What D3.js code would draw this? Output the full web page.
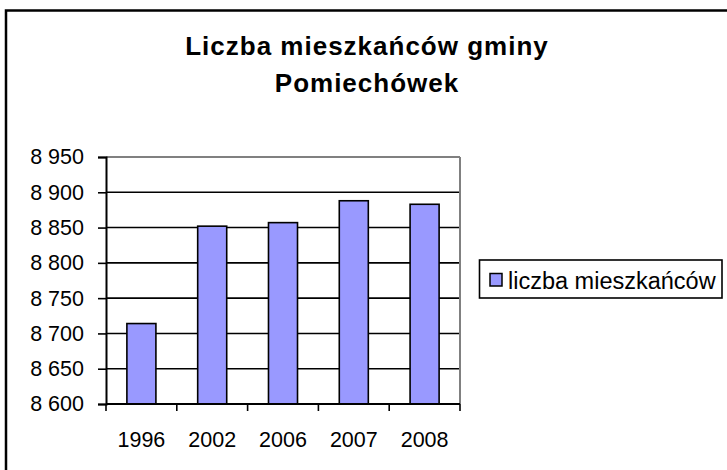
<!DOCTYPE html>
<html>
<head>
<meta charset="utf-8">
<script src="https://cdn.jsdelivr.net/npm/d3@7/dist/d3.min.js"></script>
<style>
  body { margin: 0; background: #fff; }
  text { font-family: "Liberation Sans", Arial, sans-serif; fill: #000; }
</style>
</head>
<body>
<svg id="chart" width="727" height="470"></svg>
<script>
// data
const years = ["1996", "2002", "2006", "2007", "2008"]
const residents = [8714, 8852, 8857, 8888, 8883]
const y_ticks = [8600, 8650, 8700, 8750, 8800, 8850, 8900, 8950]
const title_lines = ["Liczba mieszkańców gminy", "Pomiechówek"]
const series_name = "liczba mieszkańców"

const width = 727, height = 470
const svg = d3.select("#chart")

// outer frame (runs off the right and bottom edges)
svg.append("rect")
	.attr("x", 6).attr("y", 10.5)
	.attr("width", 760).attr("height", 500)
	.attr("fill", "none")
	.attr("stroke", "#000")
	.attr("stroke-width", 2.5)

const plot = {left: 106, right: 460, top: 157, bottom: 404}

const x = d3.scaleBand()
	.domain(years)
	.range([plot.left, plot.right])
	.paddingInner(0.59)
	.paddingOuter(0.295)

const xg = d3.scaleBand().domain(years).range([plot.left, plot.right])

const y = d3.scaleLinear()
	.domain([8600, 8950])
	.range([plot.bottom, plot.top])

const fmt = d => d3.format(",")(d).replace(",", " ")

// gridlines
svg.append("g").classed("grid", true)
	.selectAll("line")
	.data(y_ticks.filter(d => d > 8600))
	.join("line")
	.attr("x1", plot.left).attr("x2", plot.right)
	.attr("y1", d => y(d)).attr("y2", d => y(d))
	.attr("stroke", d => d === 8950 ? "#808080" : "#000")
	.attr("stroke-width", d => d === 8950 ? 2 : 1.6)

// right border of plot area
svg.append("line")
	.attr("x1", plot.right).attr("x2", plot.right)
	.attr("y1", plot.top).attr("y2", plot.bottom)
	.attr("stroke", "#808080")
	.attr("stroke-width", 2)

// bars
svg.append("g").classed("bars", true)
	.selectAll("rect")
	.data(years.map((yr, i) => ({yr, v: residents[i]})))
	.join("rect")
	.attr("x", d => x(d.yr))
	.attr("y", d => y(d.v))
	.attr("width", x.bandwidth())
	.attr("height", d => plot.bottom - y(d.v))
	.attr("fill", "#9999ff")
	.attr("stroke", "#000")
	.attr("stroke-width", 1.6)

// y axis
const yAxis = svg.append("g")
	.attr("transform", `translate(${plot.left},0)`)
	.call(d3.axisLeft(y).tickValues(y_ticks).tickFormat(fmt).tickSize(8).tickPadding(14))
yAxis.select(".domain").attr("stroke", "#000").attr("stroke-width", 2)
yAxis.selectAll(".tick line").attr("stroke", "#000").attr("stroke-width", 1.6)
yAxis.selectAll(".tick text")
	.style("font-family", '"Liberation Sans", Arial, sans-serif')
	.style("font-size", "21.5px")
	.attr("fill", "#000")

// x axis with ticks between categories
const xAxis = svg.append("g").attr("transform", `translate(0,${plot.bottom})`)
xAxis.append("line")
	.attr("x1", plot.left).attr("x2", plot.right)
	.attr("stroke", "#000").attr("stroke-width", 2)
xAxis.selectAll("line.sep")
	.data(years.map(d => xg(d)).concat([plot.right]))
	.join("line").classed("sep", true)
	.attr("x1", d => d).attr("x2", d => d)
	.attr("y1", 0).attr("y2", 7)
	.attr("stroke", "#000").attr("stroke-width", 1.6)
xAxis.selectAll("text")
	.data(years)
	.join("text")
	.attr("x", d => xg(d) + xg.bandwidth() / 2)
	.attr("y", 43)
	.attr("text-anchor", "middle")
	.style("font-size", "21.5px")
	.text(d => d)

// title
svg.append("g").classed("title", true)
	.selectAll("text")
	.data(title_lines)
	.join("text")
	.attr("x", 367)
	.attr("y", (d, i) => 55 + i * 37)
	.attr("text-anchor", "middle")
	.style("font-size", "26px")
	.style("font-weight", "bold")
	.style("letter-spacing", "1px")
	.text(d => d)

// legend
const legend = svg.append("g").classed("legend", true)
legend.append("rect")
	.attr("x", 479.5).attr("y", 260)
	.attr("width", 242.5).attr("height", 38)
	.attr("fill", "#fff")
	.attr("stroke", "#000")
	.attr("stroke-width", 1.6)
legend.append("rect")
	.attr("x", 490).attr("y", 273.5)
	.attr("width", 12).attr("height", 12.5)
	.attr("fill", "#9999ff")
	.attr("stroke", "#000")
	.attr("stroke-width", 1.5)
legend.append("text")
	.attr("x", 508).attr("y", 289)
	.style("font-size", "23.5px")
	.text(series_name)
</script>
</body>
</html>
